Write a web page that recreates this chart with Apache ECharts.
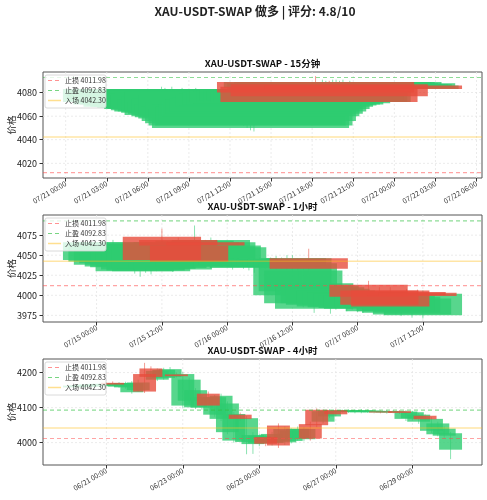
<!DOCTYPE html>
<html lang="zh">
<head>
<meta charset="UTF-8">
<title>XAU-USDT-SWAP 做多</title>
<script src="https://cdn.jsdelivr.net/npm/echarts@6/dist/echarts.min.js"></script>
<style>
  html, body { margin: 0; padding: 0; background: #fff; }
  #chart { width: 487px; height: 500px; }
</style>
</head>
<body>
<div id="chart"></div>
<script>
  // 交易价位
  var stopLoss = 4011.98;
  var takeProfit = 4092.83;
  var entryPrice = 4042.30;

  // 15分钟 K线 (07/21 07:00 起)
  var m15Open  = [4072,4074,4073,4070,4071,4070,4068,4069,4068,4068, 4067,4067,4066,4066,4065,4064,4064,4063,4061,4062,
                  4060,4059,4058,4056,4054,4052,4050,4052,4056,4060, 4062,4064,4066,4068,4069,4070,4070,4072,4071,4072,
                  4073,4072,4073,4072,4072,4089,4085,4084,4083,4087, 4084,4085,4084,4086,4084,4084,4084,4084,4083,4086];
  var m15Close = [4083,4082,4081,4083,4080,4079,4083,4078,4080,4077, 4082,4076,4079,4075,4078,4082,4074,4077,4081,4072,
                  4075,4070,4078,4068,4072,4066,4070,4068,4070,4072, 4074,4075,4076,4078,4079,4080,4081,4082,4081,4082,
                  4083,4082,4082,4081,4082,4080,4072,4089,4088,4077, 4089,4089,4088,4089,4087,4087,4087,4088,4086,4083];
  var m15High  = [4085,4084,4083,4085,4082,4081,4084,4080,4082,4079, 4084,4078,4081,4077,4080,4083,4076,4079,4082,4074,
                  4077,4072,4080,4070,4074,4068,4072,4070,4072,4075, 4076,4078,4079,4081,4082,4083,4084,4085,4084,4085,
                  4086,4085,4086,4085,4086,4094,4089,4091,4090,4090, 4091,4091,4090,4091,4089,4090,4089,4089,4088,4087];
  var m15Low   = [4070,4072,4071,4069,4069,4068,4066,4067,4066,4066, 4065,4065,4064,4064,4063,4062,4062,4061,4059,4060,
                  4058,4057,4056,4054,4052,4050,4048,4047,4054,4058, 4060,4062,4064,4066,4067,4068,4068,4070,4069,4070,
                  4071,4070,4071,4070,4070,4078,4070,4082,4081,4075, 4082,4083,4082,4084,4082,4082,4082,4081,4081,4081];

  // 1小时 K线 (07/15 01:00 起)
  var h1Open  = [4044,4042,4038,4040,4036,4035,4030,4032,4031,4030, 4033,4073,4034,4032,4069,4036,4062,4037,4038,4066,
                 4040,4042,4046,4046,4036,4038,4036,4034,4036,4036, 4036,4036,4036,4036,4036,4000,4005,3990,4046,3983,
                 3990,3988,3990,3986,3988,3985,3986,3984,3983,4013, 3985,4006,3980,4006,3980,3978,4004,3976,4003,3975];
  var h1Close = [4066,4064,4066,4062,4064,4060,4064,4058,4062,4062, 4060,4044,4064,4066,4062,4066,4042,4068,4066,4062,
                 4069,4066,4062,4060,4045,4046,4044,4044,4042,4044, 4042,4044,4045,4044,4046,4046,4040,4031,4033,4015,
                 4012,4010,4008,4006,4004,4003,4002,4000,4000,3998, 4000,3988,3998,3986,4000,3998,4000,3996,3999,4002];
  var h1High  = [4068,4066,4069,4064,4067,4063,4066,4061,4065,4064, 4063,4083,4067,4069,4072,4069,4065,4087,4069,4069,
                 4072,4069,4065,4063,4048,4050,4048,4047,4045,4047, 4046,4047,4049,4047,4050,4050,4046,4035,4058,4018,
                 4016,4014,4012,4010,4008,4007,4006,4004,4004,4018, 4004,4010,4002,4010,4004,4002,4008,4000,4007,4006];
  var h1Low   = [4041,4040,4035,4037,4033,4032,4027,4023,4028,4026, 4030,4040,4031,4029,4058,4033,4038,4034,4035,4058,
                 4037,4039,4042,4043,4032,4035,4033,4031,4028,4033, 4033,4033,4032,4033,4032,3995,4000,3985,4028,3978,
                 3986,3984,3977,3982,3984,3980,3982,3979,3978,3994, 3980,3983,3976,3982,3976,3974,3996,3972,3995,3971];

  // 4小时 K线 (06/20 04:00 起)
  var h4Open  = [4158,4160,4161,4160,4163,4162,4171,4160,4158,4144, 4150,4196,4212,4180,4185,4188,4195,4106,4120,4101,
                 4100,4140,4080,4068,4030,4006,4080,4002,3996,3998, 4016,3999,4049,4001,4005,4012,4010,4053,4094,4060,
                 4075,4093,4088,4088,4087,4087,4088,4087,4089,4086, 4087,4090,4068,4070,4060,4077,4034,4024,4020,3980];
  var h4Close = [4163,4164,4166,4166,4168,4168,4166,4170,4170,4170, 4172,4146,4188,4205,4208,4210,4190,4196,4180,4150,
                 4130,4106,4130,4134,4112,4082,4068,4070,4022,4020, 3997,4025,3992,4039,4035,4040,4039,4012,4050,4090,
                 4092,4081,4092,4093,4092,4093,4092,4091,4087,4090, 4090,4085,4089,4087,4080,4067,4068,4055,4040,4027];
  var h4High  = [4166,4167,4168,4169,4171,4172,4175,4173,4174,4176, 4180,4228,4218,4212,4214,4216,4200,4202,4186,4156,
                 4136,4146,4136,4140,4118,4088,4086,4076,4030,4026, 4022,4031,4055,4046,4041,4046,4045,4060,4098,4095,
                 4096,4097,4095,4096,4095,4096,4095,4094,4092,4093, 4093,4093,4093,4091,4085,4081,4073,4060,4046,4031];
  var h4Low   = [4156,4158,4159,4158,4161,4160,4163,4157,4154,4140, 4146,4142,4184,4176,4180,4184,4186,4100,4114,4096,
                 4094,4100,4074,4062,4024,4000,4062,3967,3968,3990, 3990,3992,3985,3994,3998,4006,4004,4006,4044,4055,
                 4070,4076,4085,4085,4084,4084,4085,4084,4084,4083, 4084,4082,4062,4064,4054,4063,4028,4018,4014,3953];

  // 坐标轴刻度
  var m15YTicks = [4020, 4040, 4060, 4080];
  var h1YTicks = [3975, 4000, 4025, 4050, 4075];
  var h4YTicks = [4000, 4100, 4200];
  var m15XTicks = ['2025-07-21 00:00','2025-07-21 03:00','2025-07-21 06:00','2025-07-21 09:00','2025-07-21 12:00',
                   '2025-07-21 15:00','2025-07-21 18:00','2025-07-21 21:00','2025-07-22 00:00','2025-07-22 03:00','2025-07-22 06:00'];
  var h1XTicks = ['2025-07-15 00:00','2025-07-15 12:00','2025-07-16 00:00','2025-07-16 12:00','2025-07-17 00:00','2025-07-17 12:00'];
  var h4XTicks = ['2025-06-21 00:00','2025-06-23 00:00','2025-06-25 00:00','2025-06-27 00:00','2025-06-29 00:00'];

  var HOUR = 3600000;
  var HALF = 7.2 * HOUR; // 蜡烛实体宽度 0.6 天
  var GREEN = '#2ecc71';
  var RED = '#e74c3c';
  var FONT = '"Noto Sans CJK SC", "Noto Sans", sans-serif';

  function ts(s) {
    var p = s.split(/[- :]/);
    return Date.UTC(+p[0], +p[1] - 1, +p[2], +p[3], +p[4]);
  }
  function pad(n) { return (n < 10 ? '0' : '') + n; }
  function fmt(v) {
    var d = new Date(v);
    return pad(d.getUTCMonth() + 1) + '/' + pad(d.getUTCDate()) + ' ' + pad(d.getUTCHours()) + ':' + pad(d.getUTCMinutes());
  }

  var levels = [
    { name: '止损 ' + stopLoss.toFixed(2), v: stopLoss, color: '#ff4a4a', dash: [4, 3], width: 1.2, opacity: 0.5 },
    { name: '止盈 ' + takeProfit.toFixed(2), v: takeProfit, color: '#2fbf3f', dash: [4, 3], width: 1.2, opacity: 0.55 },
    { name: '入场 ' + entryPrice.toFixed(2), v: entryPrice, color: '#ffbf1f', dash: null, width: 1.5, opacity: 0.4 }
  ];

  function bodyRender(color) {
    return function (params, api) {
      var t = api.value(0), o = api.value(1), c = api.value(2);
      var a = api.coord([t - HALF, Math.max(o, c)]);
      var b = api.coord([t + HALF, Math.min(o, c)]);
      return {
        type: 'rect',
        shape: { x: a[0], y: a[1], width: b[0] - a[0], height: Math.max(b[1] - a[1], 1) },
        style: { fill: color, opacity: 0.8 }
      };
    };
  }
  function wickRender(params, api) {
    var t = api.value(0);
    var lo = api.coord([t, api.value(1)]);
    var hi = api.coord([t, api.value(2)]);
    return {
      type: 'line',
      shape: { x1: lo[0], y1: lo[1], x2: hi[0], y2: hi[1] },
      style: { stroke: api.value(3) > 0 ? GREEN : RED, lineWidth: 1, opacity: 0.55 }
    };
  }
  // 网格线: [值, 0=竖线 / 1=横线]
  function gridRender(params, api) {
    var cs = params.coordSys;
    var v = api.value(0);
    var shape;
    if (api.value(1) === 0) {
      var x = api.coord([v, api.value(2)])[0];
      shape = { x1: x, y1: cs.y, x2: x, y2: cs.y + cs.height };
    } else {
      var y = api.coord([api.value(2), v])[1];
      shape = { x1: cs.x, y1: y, x2: cs.x + cs.width, y2: y };
    }
    return { type: 'line', shape: shape, style: { stroke: '#e6e6e6', lineWidth: 0.8, lineDash: [2, 2] } };
  }

  var option = {
    animation: false,
    textStyle: { fontFamily: FONT },
    grid: [], xAxis: [], yAxis: [], series: [],
    graphic: [{
      type: 'text', x: 255, y: 11,
      style: { text: 'XAU-USDT-SWAP 做多 | 评分: 4.8/10', font: 'bold 12px ' + FONT, fill: '#222', textAlign: 'center', textVerticalAlign: 'middle' }
    }]
  };

  function addPanel(k, p) {
    var start = ts(p.start);
    var times = p.open.map(function (_, i) { return start + i * p.step * HOUR; });
    var lo = times[0] - HALF, hi = times[times.length - 1] + HALF;
    var xmin = lo - (hi - lo) * 0.05, xmax = hi + (hi - lo) * 0.05;
    var xt = p.xTicks.map(ts);

    option.grid.push({
      left: 43, width: 439, top: p.top, height: p.height, containLabel: false, outerBoundsMode: 'none',
      show: true, borderColor: '#555', borderWidth: 1, backgroundColor: 'transparent'
    });
    option.xAxis.push({
      type: 'value', gridIndex: k, min: xmin, max: xmax,
      axisLine: { show: false }, splitLine: { show: false },
      axisTick: { show: true, customValues: xt, length: 3.5, lineStyle: { color: '#333' } },
      axisLabel: { customValues: xt, formatter: fmt, rotate: 30, fontSize: 7, color: '#333', margin: 5 }
    });
    option.yAxis.push({
      type: 'value', gridIndex: k, min: p.ymin, max: p.ymax,
      axisLine: { show: false }, splitLine: { show: false },
      axisTick: { show: true, customValues: p.yTicks, length: 3.5, lineStyle: { color: '#333' } },
      axisLabel: { customValues: p.yTicks, formatter: function (v) { return String(v); }, fontSize: 9, color: '#222', margin: 6 }
    });

    var gridData = xt.map(function (v) { return [v, 0, p.ymin]; })
      .concat(p.yTicks.map(function (v) { return [v, 1, xmin]; }));
    option.series.push({ type: 'custom', xAxisIndex: k, yAxisIndex: k, renderItem: gridRender, data: gridData, silent: true, z: 1 });

    var wick = [], up = [], down = [];
    times.forEach(function (t, i) {
      var dir = p.close[i] >= p.open[i] ? 1 : -1;
      wick.push([t, p.low[i], p.high[i], dir]);
      if (dir > 0) up.push([t, p.open[i], p.close[i]]);
      else down.push([t, p.open[i], p.close[i]]);
    });
    option.series.push({ type: 'custom', xAxisIndex: k, yAxisIndex: k, renderItem: wickRender, data: wick, encode: { x: 0, y: [1, 2] }, silent: true, clip: true, z: 3 });
    option.series.push({ type: 'custom', xAxisIndex: k, yAxisIndex: k, renderItem: bodyRender(GREEN), data: up, encode: { x: 0, y: [1, 2] }, silent: true, clip: true, z: 3 });
    option.series.push({ type: 'custom', xAxisIndex: k, yAxisIndex: k, renderItem: bodyRender(RED), data: down, encode: { x: 0, y: [1, 2] }, silent: true, clip: true, z: 3 });

    levels.forEach(function (l) {
      option.series.push({
        type: 'line', name: l.name, xAxisIndex: k, yAxisIndex: k, silent: true, z: 4,
        symbol: 'none', data: [[xmin, l.v], [xmax, l.v]],
        lineStyle: { color: l.color, type: l.dash || 'solid', width: l.width, opacity: l.opacity }
      });
    });

    // 图例
    var lx = 45, ly = p.top + 3;
    option.graphic.push({
      type: 'rect', x: lx, y: ly, z: 10,
      shape: { width: 61, height: 33, r: 2 },
      style: { fill: 'rgba(255,255,255,0.8)', stroke: '#d0d0d0', lineWidth: 0.8 }
    });
    levels.forEach(function (l, j) {
      var yy = ly + 5.5 + j * 10;
      option.graphic.push({
        type: 'line', z: 11, shape: { x1: lx + 3, y1: yy, x2: lx + 16, y2: yy },
        style: { stroke: l.color, lineWidth: l.width, lineDash: l.dash, opacity: l.opacity + 0.1 }
      });
      option.graphic.push({
        type: 'text', x: lx + 20, y: yy, z: 11,
        style: { text: l.name, font: '7px ' + FONT, fill: '#333', textVerticalAlign: 'middle' }
      });
    });

    // 子图标题与纵轴名称
    option.graphic.push({
      type: 'text', x: 262.5, y: p.top - 9,
      style: { text: p.title, font: 'bold 9.5px ' + FONT, fill: '#111', textAlign: 'center', textVerticalAlign: 'middle' }
    });
    option.graphic.push({
      type: 'text', x: 11, y: p.top + p.height / 2, rotation: Math.PI / 2,
      style: { text: '价格', font: '9.5px ' + FONT, fill: '#222', textAlign: 'center', textVerticalAlign: 'middle' }
    });
  }

  addPanel(0, { title: 'XAU-USDT-SWAP - 15分钟', start: '2025-07-21 07:00', step: 0.25, top: 72, height: 106,
    open: m15Open, close: m15Close, high: m15High, low: m15Low, ymin: 4007.5, ymax: 4097.5, yTicks: m15YTicks, xTicks: m15XTicks });
  addPanel(1, { title: 'XAU-USDT-SWAP - 1小时', start: '2025-07-15 01:00', step: 1, top: 215, height: 107,
    open: h1Open, close: h1Close, high: h1High, low: h1Low, ymin: 3966.6, ymax: 4100.1, yTicks: h1YTicks, xTicks: h1XTicks });
  addPanel(2, { title: 'XAU-USDT-SWAP - 4小时', start: '2025-06-20 04:00', step: 4, top: 359, height: 106,
    open: h4Open, close: h4Close, high: h4High, low: h4Low, ymin: 3936.3, ymax: 4239, yTicks: h4YTicks, xTicks: h4XTicks });

  var chart = echarts.init(document.getElementById('chart'), null, { renderer: 'canvas' });
  chart.setOption(option);
</script>
</body>
</html>
